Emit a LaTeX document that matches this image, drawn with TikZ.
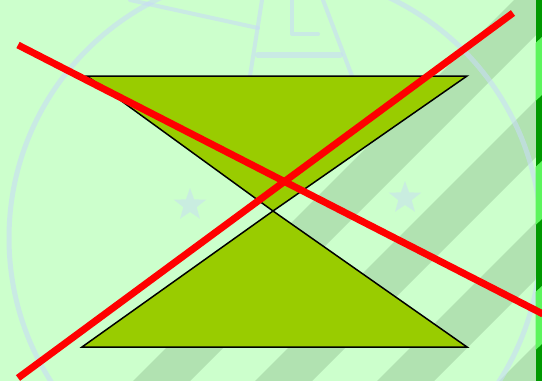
\documentclass[tikz,border=0pt]{standalone}
\usepackage{xcolor}
\usepackage{tikz}
\usetikzlibrary{calc}
\definecolor{bggreen}{HTML}{CCFFCC}
\definecolor{stripegreen}{HTML}{B1E2B1}
\definecolor{bardark}{HTML}{009900}
\definecolor{barlight}{HTML}{5CF55C}
\definecolor{olivefill}{HTML}{99CC00}
\definecolor{crossred}{HTML}{FF0000}
\definecolor{markblue}{HTML}{C8DCF5}
\tikzset{
  cone/.style={draw=black,fill=olivefill,line width=1.5pt,line join=miter},
  cross/.style={draw=crossred,line width=7pt},
  band/.style={fill=stripegreen},
  wmark/.style={draw=markblue,line width=5pt,line cap=round,line join=round,draw opacity=0.6},
  wstar/.style={fill=markblue,opacity=0.5}
}

\begin{document}
\begin{tikzpicture}[x=1pt,y=-1pt]
  \useasboundingbox (0,0) rectangle (542,381);
  \fill[bggreen] (0,0) rectangle (542,381);

  % stripes
  \begin{scope}
    \clip (0,0) rectangle (536,381);
    \foreach \s in {514,636,758,880}
      \fill[band] (\s,0) -- ++(57,0) -- ++(-400,400) -- ++(-57,0) -- cycle;
  \end{scope}

  % watermark
  \begin{scope}
    \clip (0,0) rectangle (536,381);
    \draw[wmark] (275,238) circle[radius=266pt];
    \draw[wmark,line width=4pt] (130,0) -- (258,28);
    \draw[wmark,line width=4pt] (262,0) -- (250,76);
    \draw[wmark,line width=4pt] (323,0) -- (352,76);
    \draw[wmark,line width=6pt] (258,55) -- (340,55);
    \draw[wmark,line width=4pt] (292,0) -- (292,34) -- (318,34);
    \foreach \cx/\cy in {190/205,405/198}
      \fill[wstar,shift={(\cx,\cy)}] (90:17pt)
        \foreach \k [evaluate=\k as \r using {mod(\k,2)==0 ? 17 : 7}] in {1,...,9} {
          -- (90+\k*36:\r pt)
        } -- cycle;
  \end{scope}

  % side bar
  \fill[bardark] (535.5,0) rectangle (542,381);
  \foreach \a in {43,167,292}
    \fill[barlight] (535.5,\a) -- (542,\a-6) -- (542,\a+52) -- (535.5,\a+58) -- cycle;

  % hourglass
  \coordinate (tl) at (87,76);
  \coordinate (tr) at (467,76);
  \coordinate (apex) at (273,211);
  \coordinate (bl) at (82,347);
  \coordinate (br) at (467,347);
  \draw[cone] (tl) -- (tr) -- (apex) -- cycle;
  \draw[cone] (bl) -- (br) -- (apex) -- cycle;

  % crossing out
  \coordinate (ra) at (18,45);
  \coordinate (rb) at (543,314);
  \coordinate (rc) at (18,378);
  \coordinate (rd) at (513,13);
  \draw[cross] (ra) -- (rb);
  \draw[cross] (rc) -- (rd);
\end{tikzpicture}
\end{document}
